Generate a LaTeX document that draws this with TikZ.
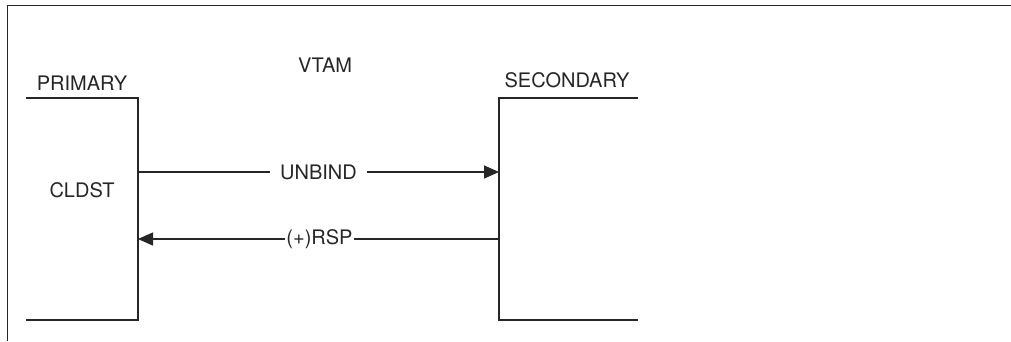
\documentclass[tikz,border=0pt]{standalone}
\usepackage{fontspec}
\setmainfont{TeX Gyre Heros}
\usetikzlibrary{
    arrows.meta
}

\begin{document}
\begin{tikzpicture}[x=1pt,y=-1pt,line width=1.3pt,draw=black!85,
    every node/.style={font=\fontsize{20}{24}\selectfont,text=black!85},
    msg/.style={-{Triangle[length=15pt,width=13pt]}},
    msglabel/.style={fill=white,inner xsep=10pt,inner ysep=1pt}]
\useasboundingbox (0,0) rectangle (1011,341);

% Outer frame (top and left edges only)
\draw (1011,5.5) -- (7.5,5.5) -- (7.5,341);

% Titles
\node (vtam) at (325,65) {VTAM};
\node (primary) at (82,83.5) {PRIMARY};
\node (secondary) at (567,80.5) {SECONDARY};

% Primary side
\draw (26,98) -- (138,98) -- (138,320) -- (26,320);
\node (cldst) at (82,190) {CLDST};

% Secondary side
\draw (638,98) -- (499,98) -- (499,320) -- (638,320);

% Message end points on the two sides
\coordinate (unbindL) at (138,172);
\coordinate (unbindR) at (499,172);
\coordinate (rspL) at (138,239);
\coordinate (rspR) at (499,239);

% UNBIND and its response
\draw[msg] (unbindL) -- node[msglabel] (unbind) {UNBIND} (unbindR);
\draw[msg] (rspR) -- node[msglabel,inner xsep=1.5pt,xshift=1pt] (rsp) {(+)RSP} (rspL);

\end{tikzpicture}
\end{document}
